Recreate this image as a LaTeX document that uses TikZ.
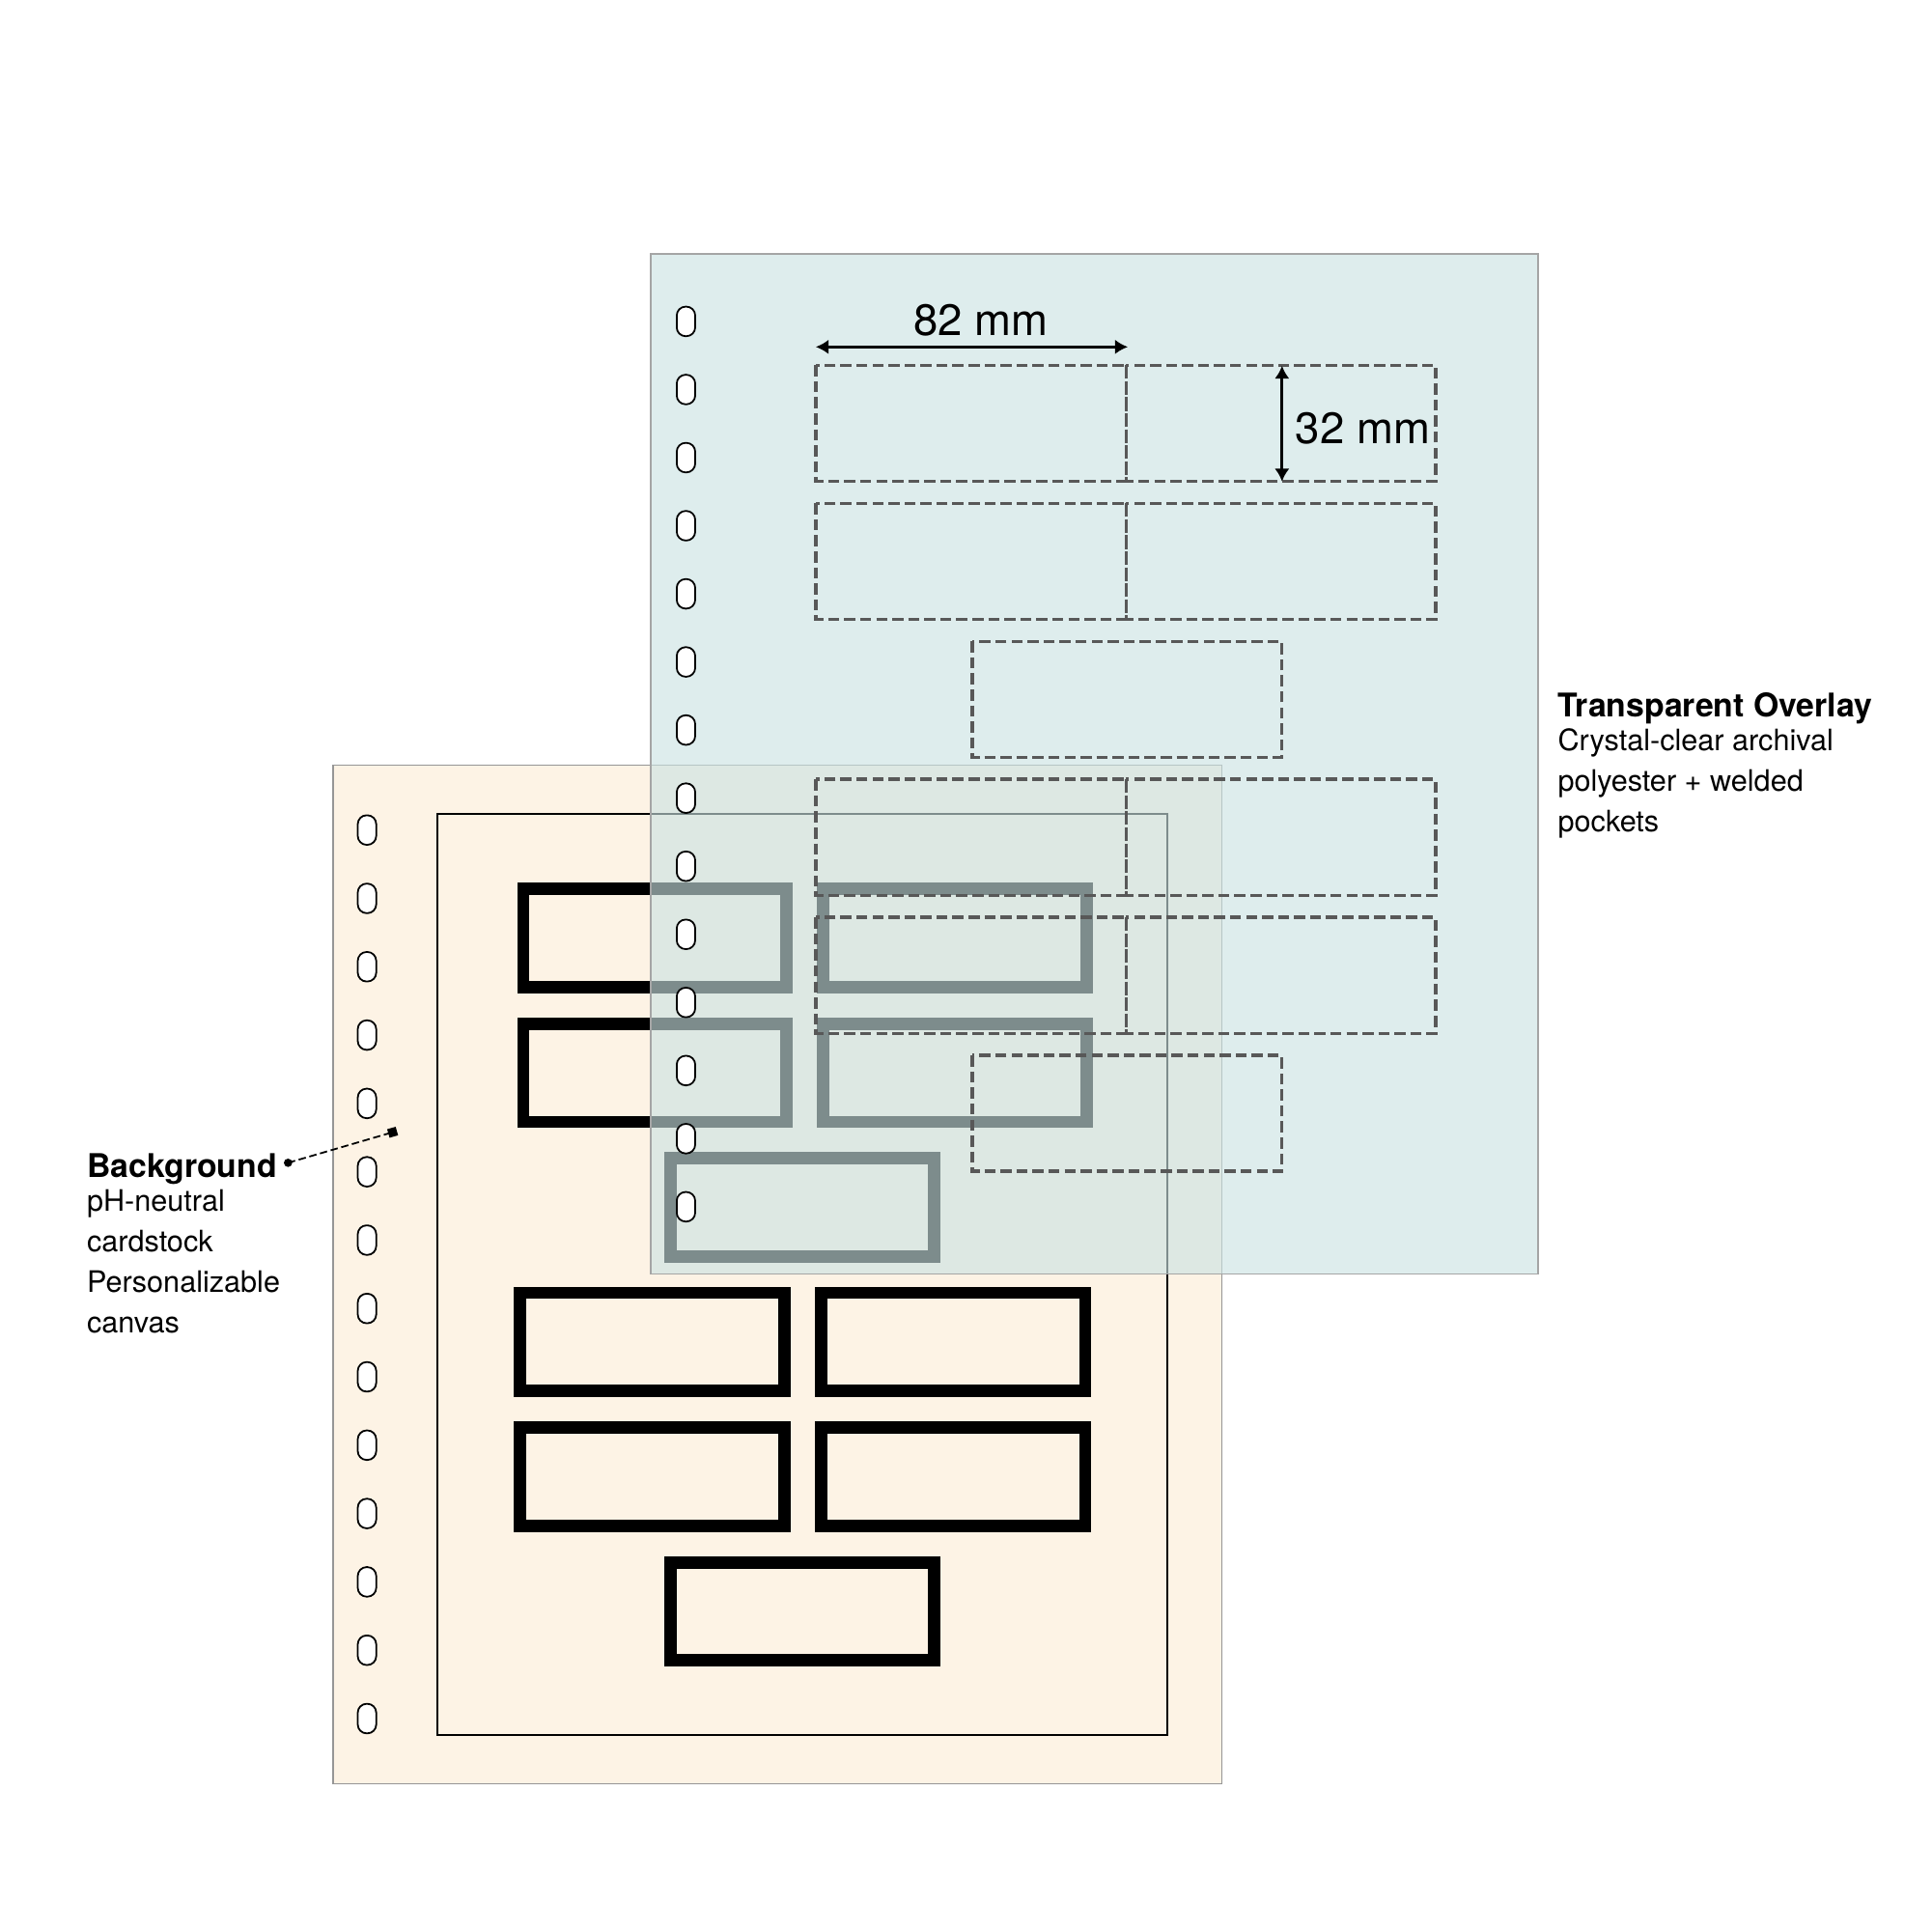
\documentclass[tikz,border=0pt]{standalone}
\usepackage{fontspec}
\setmainfont{TeX Gyre Heros}
\usetikzlibrary{arrows.meta}
\definecolor{cream}{RGB}{253,243,229}
\definecolor{film}{RGB}{202,226,227}
\definecolor{pocketgray}{RGB}{88,88,88}
\definecolor{edgegray}{RGB}{150,150,150}
\definecolor{filmedge}{RGB}{165,165,165}
\begin{document}
\begin{tikzpicture}[x=0.5pt,y=-0.5pt,
  sheet/.style={draw=edgegray,line width=0.6pt},
  hole/.style={draw=black,fill=white,line width=0.7pt,rounded corners=3.6pt},
  frame/.style={draw=black,line width=5pt},
  pocket/.style={draw=pocketgray,line width=1.4pt,dash pattern=on 4.5pt off 2pt},
  dimarrow/.style={line width=1.3pt,{Latex[length=5.2pt,width=6pt]}-{Latex[length=5.2pt,width=6pt]}},
  ttl/.style={font=\fontsize{13.25pt}{16pt}\selectfont\bfseries,inner sep=0pt,anchor=base west},
  body/.style={font=\fontsize{12pt}{16pt}\selectfont,inner sep=0pt,anchor=base west},
  dim/.style={font=\fontsize{17.85pt}{20pt}\selectfont,inner sep=0pt},
  leader/.style={line width=0.7pt,dash pattern=on 3pt off 1.5pt}]

\useasboundingbox (0,0) rectangle (1568,1568);
\fill[white] (0,0) rectangle (1568,1568);

% ---------- background sheet ----------
\draw[sheet,fill=cream] (270.5,621.2) rectangle (992,1448.3);
\draw[black,line width=0.7pt] (355,661.2) rectangle (947.8,1408.6);
\foreach \k in {0,...,13}
  \draw[hole] ({298-7.5},{674+55.5*\k-12}) rectangle ({298+7.5},{674+55.5*\k+12});

% thick frames
\draw[frame] (424.9,721.8) rectangle (638.6,801.5);
\draw[frame] (668.5,721.8) rectangle (882.2,801.5);
\draw[frame] (424.9,831.3) rectangle (638.6,911.0);
\draw[frame] (668.5,831.3) rectangle (882.2,911.0);
\draw[frame] (544.6,940.6) rectangle (758.6,1020.3);
\draw[frame] (422.0,1049.8) rectangle (636.8,1129.5);
\draw[frame] (666.7,1049.8) rectangle (881.2,1129.5);
\draw[frame] (422.0,1159.2) rectangle (636.8,1238.9);
\draw[frame] (666.7,1159.2) rectangle (881.2,1238.9);
\draw[frame] (544.6,1268.6) rectangle (758.4,1348.3);

% leader for background label
\coordinate (lead) at (233.9,944.2);
\coordinate (bgpt) at (318.8,919.4);
\draw[leader] (lead) -- (bgpt);
\fill (lead) circle (1.7pt);
\node[fill=black,minimum size=3.6pt,inner sep=0pt,rotate=16] (bgsq) at (bgpt) {};

% ---------- transparent overlay ----------
\fill[film,fill opacity=0.62] (528.4,206.2) rectangle (1249,1034.4);
\draw[filmedge,line width=0.6pt] (528.4,206.2) rectangle (1249,1034.4);
\foreach \k in {0,...,13}
  \draw[hole] ({557-7.5},{261+55.3*\k-12}) rectangle ({557+7.5},{261+55.3*\k+12});

% pockets
\foreach \y in {296.6,408.7,632.9,745.0} {
  \draw[pocket] (662.6,\y) rectangle (914.4,\y+94.1);
  \draw[pocket] (914.4,\y) rectangle (1166.0,\y+94.1);
}
\foreach \y in {520.8,857.1}
  \draw[pocket] (789.5,\y) rectangle (1040.8,\y+94.1);

% dimensions
\coordinate (w1) at (662.4,281.7);
\coordinate (w2) at (915.8,281.7);
\draw[dimarrow] (w1) -- (w2);
\node[dim,anchor=base] (wlabel) at (796.5,272.6) {82 mm};
\coordinate (h1) at (1041,297);
\coordinate (h2) at (1041,391);
\draw[dimarrow] (h1) -- (h2);
\node[dim,anchor=base west] (hlabel) at (1051.7,360.1) {32 mm};

% ---------- labels ----------
\node[ttl] (ovtitle) at (1264.6,582) {Transparent Overlay};
\node[body] (ovl1) at (1264.6,609.5) {Crystal-clear archival};
\node[body] (ovl2) at (1264.6,642.5) {polyester + welded};
\node[body] (ovl3) at (1264.6,675.5) {pockets};

\node[ttl] (bgtitle) at (70.2,956) {Background};
\node[body] (bgl1) at (70.2,983.5) {pH-neutral};
\node[body] (bgl2) at (70.2,1016.5) {cardstock};
\node[body] (bgl3) at (70.2,1049.5) {Personalizable};
\node[body] (bgl4) at (70.2,1082.5) {canvas};
\end{tikzpicture}
\end{document}
